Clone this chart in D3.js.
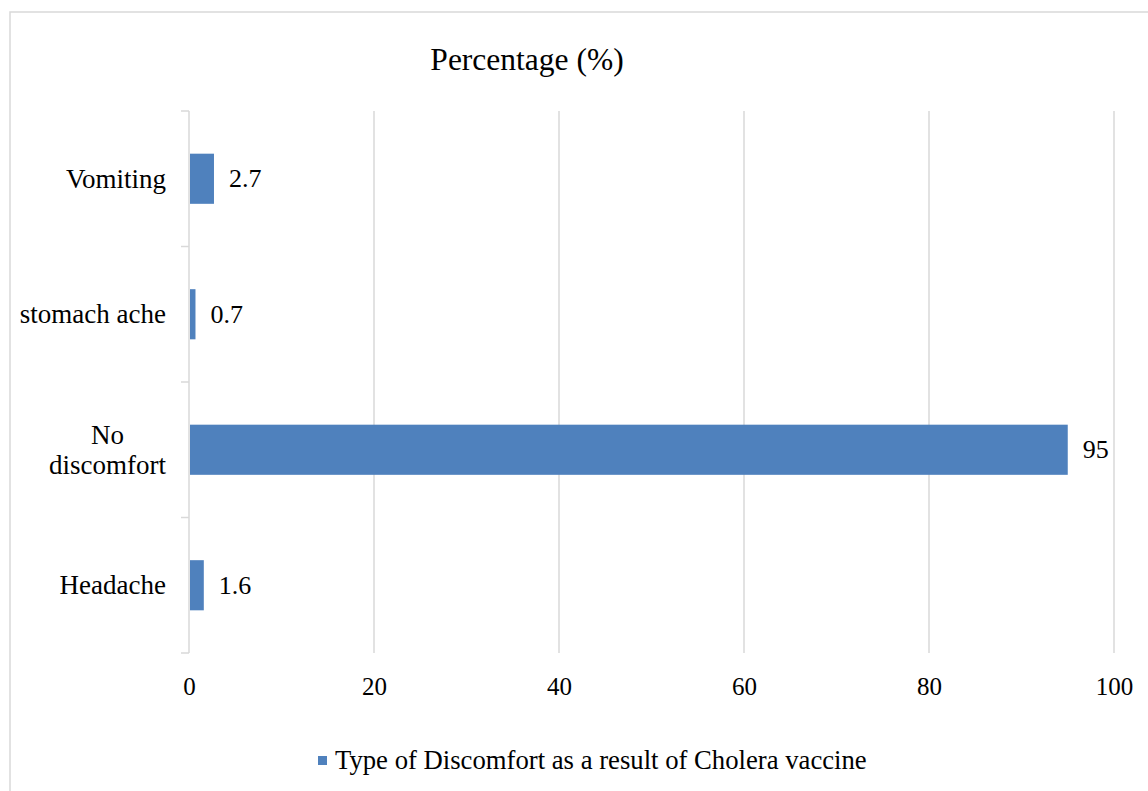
<!DOCTYPE html>
<html>
<head>
<meta charset="utf-8">
<script src="https://cdn.jsdelivr.net/npm/d3@7"></script>
<style>
  html, body { margin: 0; padding: 0; background: #fff; }
  svg { display: block; }
  svg text { font-family: 'Liberation Serif', 'DejaVu Serif', serif; fill: #000; }
</style>
</head>
<body>
<svg id="chart" width="1148" height="791"></svg>
<script>
// Discomfort types reported after cholera vaccination (% of respondents)
const categories = ["Vomiting", "stomach ache", "No discomfort", "Headache"];
const percentages = [2.7, 0.7, 95, 1.6];
const xTicks = [0, 20, 40, 60, 80, 100];
const titleText = "Percentage (%)";
const legendText = "Type of Discomfort as a result of Cholera vaccine";

const W = 1148, H = 791;
const margin = { top: 111, right: 34, bottom: 138, left: 189 };
const barColor = "#4f81bd";
const gridColor = "#d9d9d9";
const serif = "'Liberation Serif', 'DejaVu Serif', serif";

const svg = d3.select("#chart");

// outer chart frame
svg.append("rect")
  .attr("x", 10).attr("y", 12)
  .attr("width", W).attr("height", H)
  .attr("fill", "none").attr("stroke", gridColor).attr("stroke-width", 1.5);

const x = d3.scaleLinear().domain([0, 100]).range([margin.left, W - margin.right]);
const y = d3.scaleBand().domain(categories).range([margin.top, H - margin.bottom]).paddingInner(0.63).paddingOuter(0.315);

const plotTop = margin.top, plotBottom = H - margin.bottom;

// vertical gridlines
svg.append("g").selectAll("line")
  .data(xTicks.filter(t => t > 0))
  .join("line")
  .attr("x1", d => x(d)).attr("x2", d => x(d))
  .attr("y1", plotTop).attr("y2", plotBottom)
  .attr("stroke", gridColor).attr("stroke-width", 1.5);

// x axis tick labels
const xAxis = d3.axisBottom(x).tickValues(xTicks).tickSize(0).tickPadding(0).tickFormat(d3.format("d"));
const gx = svg.append("g").attr("transform", `translate(0,${plotBottom + 42})`).call(xAxis);
gx.attr("font-family", serif).attr("font-size", 25);
gx.select(".domain").remove();
gx.selectAll("text").attr("dy", 0).attr("fill", "#000");

// category axis: vertical line with ticks at band boundaries
svg.append("line")
  .attr("x1", x(0)).attr("x2", x(0))
  .attr("y1", plotTop).attr("y2", plotBottom)
  .attr("stroke", gridColor).attr("stroke-width", 1.5);
const step = y.step();
const boundaries = d3.range(categories.length + 1).map(i => plotTop + i * step);
svg.append("g").selectAll("line")
  .data(boundaries)
  .join("line")
  .attr("x1", x(0) - 8).attr("x2", x(0))
  .attr("y1", d => d).attr("y2", d => d)
  .attr("stroke", gridColor).attr("stroke-width", 1.5);

// category labels (wrapped where needed)
const wrapLines = { "No discomfort": ["No", "discomfort"] };
const labelRight = x(0) - 23;
const labelSize = 27;
const labelG = svg.append("g");
categories.forEach(c => {
  const cy = y(c) + y.bandwidth() / 2;
  const lines = wrapLines[c] || [c];
  if (lines.length === 1) {
    labelG.append("text")
      .attr("x", labelRight).attr("y", cy).attr("dy", "0.33em")
      .attr("text-anchor", "end").attr("font-size", labelSize).text(c);
  } else {
    const probe = labelG.append("text").attr("font-size", labelSize).text(d3.greatest(lines, l => l.length));
    const wMax = probe.node().getComputedTextLength();
    probe.remove();
    const lh = 30;
    lines.forEach((l, i) => {
      labelG.append("text")
        .attr("x", labelRight - wMax / 2)
        .attr("y", cy + (i - (lines.length - 1) / 2) * lh).attr("dy", "0.33em")
        .attr("text-anchor", "middle").attr("font-size", labelSize).text(l);
    });
  }
});

// bars
const data = categories.map((c, i) => ({ c, v: percentages[i] }));
svg.append("g").selectAll("rect")
  .data(data)
  .join("rect")
  .attr("x", x(0) + 1)
  .attr("y", d => y(d.c))
  .attr("width", d => Math.max(0, x(d.v) - x(0) - 1))
  .attr("height", y.bandwidth())
  .attr("fill", barColor);

// value labels
svg.append("g").selectAll("text")
  .data(data)
  .join("text")
  .attr("x", d => x(d.v) + 15)
  .attr("y", d => y(d.c) + y.bandwidth() / 2)
  .attr("dy", "0.33em")
  .attr("font-size", 26)
  .text(d => d.v);

// title
svg.append("text")
  .attr("x", 527).attr("y", 70)
  .attr("text-anchor", "middle").attr("font-size", 31.5)
  .text(titleText);

// legend
const lg = svg.append("g");
lg.append("rect").attr("x", 318).attr("y", 756).attr("width", 9).attr("height", 9).attr("fill", barColor);
lg.append("text").attr("x", 335).attr("y", 769).attr("font-size", 26.7).text(legendText);
</script>
</body>
</html>
